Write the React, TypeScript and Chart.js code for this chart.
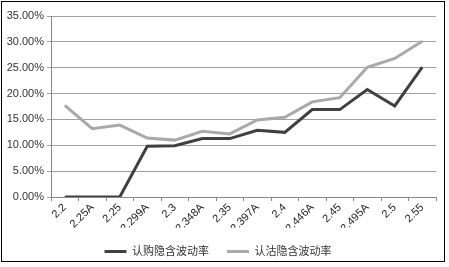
import React, { useEffect, useRef } from "react";
import { Chart, registerables } from "chart.js";

Chart.register(...registerables);

const categories = ["2.2", "2.25A", "2.25", "2.299A", "2.3", "2.348A", "2.35", "2.397A", "2.4", "2.446A", "2.45", "2.495A", "2.5", "2.55"];
const callIV = [0, 0, 0, 9.8, 9.9, 11.3, 11.3, 12.9, 12.5, 16.9, 16.9, 20.8, 17.6, 25.1];
const putIV = [17.7, 13.2, 13.9, 11.4, 11.0, 12.7, 12.2, 14.9, 15.4, 18.4, 19.2, 25.1, 26.8, 30.1];
const seriesNames = ["认购隐含波动率", "认沽隐含波动率"];
const yMin = 0;
const yMax = 35;
const yStep = 5;

const FONT = "'Liberation Sans', Arial, 'Noto Sans CJK SC', sans-serif";

const borderPlugin = {
  id: "outerBorder",
  afterDraw(chart: any) {
    const ctx = chart.ctx;
    ctx.save();
    ctx.strokeStyle = "#000";
    ctx.lineWidth = 1;
    ctx.strokeRect(1.5, 1.5, 443, 260);
    ctx.restore();
  },
};

export default function App() {
  const ref = useRef<HTMLCanvasElement>(null);
  useEffect(() => {
    document.body.style.margin = "0";
    const chart = new Chart(ref.current!, {
      type: "line",
      data: {
        labels: categories,
        datasets: [
          {
            label: seriesNames[0],
            data: callIV,
            borderColor: "#404040",
            backgroundColor: "#404040",
            borderWidth: 3,
            pointRadius: 0,
            tension: 0,
          },
          {
            label: seriesNames[1],
            data: putIV,
            borderColor: "#a9a9a9",
            backgroundColor: "#a9a9a9",
            borderWidth: 3,
            pointRadius: 0,
            tension: 0,
          },
        ],
      },
      options: {
        animation: false,
        responsive: false,
        devicePixelRatio: 1,
        layout: { padding: { left: 0, right: 13, top: 16, bottom: 0 } },
        plugins: {
          tooltip: { enabled: false },
          legend: {
            position: "bottom",
            labels: {
              usePointStyle: true,
              pointStyle: "line",
              pointStyleWidth: 22,
              boxHeight: 10,
              padding: 18,
              color: "#333",
              font: { family: FONT, size: 11 },
            },
          },
        },
        scales: {
          x: {
            offset: true,
            grid: {
              offset: true,
              drawOnChartArea: false,
              drawTicks: true,
              tickLength: 4,
              color: "#888",
            },
            border: { color: "#888" },
            ticks: {
              minRotation: 45,
              maxRotation: 45,
              autoSkip: false,
              color: "#222",
              font: { family: FONT, size: 11 },
              padding: 0,
            },
            afterFit(scale: any) {
              scale.height = 31;
            },
          },
          y: {
            min: yMin,
            max: yMax,
            ticks: {
              stepSize: yStep,
              color: "#333",
              font: { family: FONT, size: 11 },
              padding: 3,
              callback: (v: any) => Number(v).toFixed(2) + "%",
            },
            grid: { color: "#a0a0a0", tickLength: 4 },
            border: { color: "#888" },
            afterFit(scale: any) {
              scale.width = 51;
            },
          },
        },
      },
      plugins: [borderPlugin],
    });
    return () => chart.destroy();
  }, []);
  return <canvas ref={ref} width={449} height={267} style={{ display: "block" }} />;
}
